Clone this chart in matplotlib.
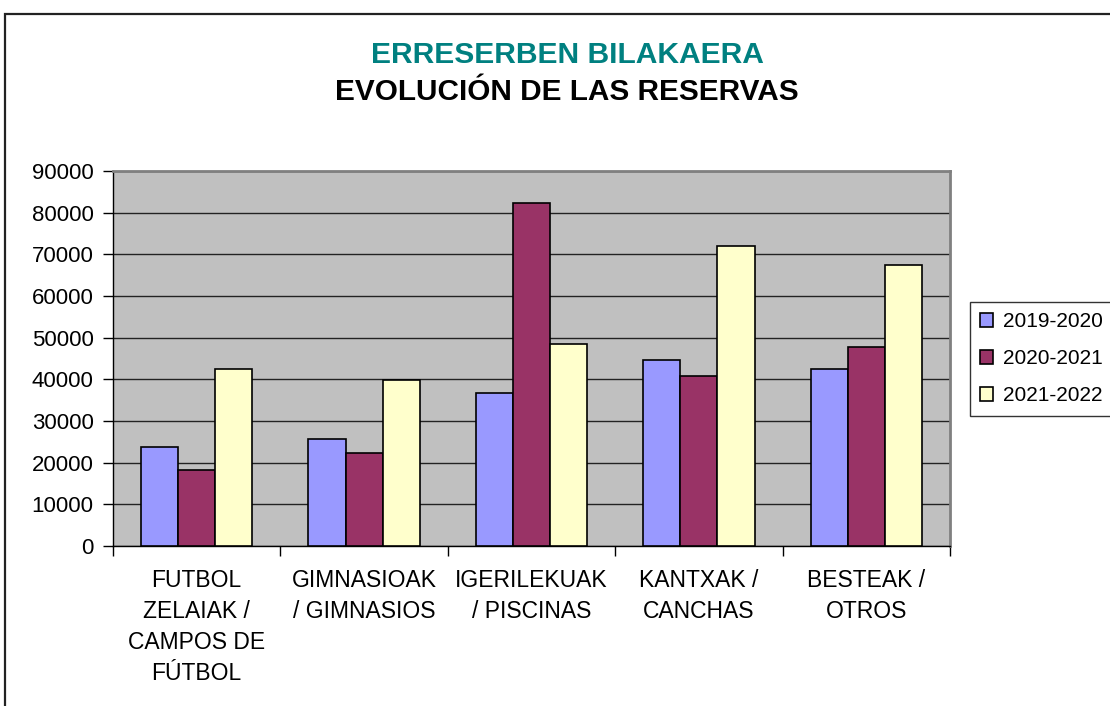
import numpy as np
import matplotlib.pyplot as plt
from matplotlib.patches import Rectangle

plt.rcParams['font.family'] = ['Liberation Sans', 'DejaVu Sans']

categories = ["FUTBOL\nZELAIAK /\nCAMPOS DE\nFÚTBOL",
              "GIMNASIOAK\n/ GIMNASIOS",
              "IGERILEKUAK\n/ PISCINAS",
              "KANTXAK /\nCANCHAS",
              "BESTEAK /\nOTROS"]
seasons = ["2019-2020", "2020-2021", "2021-2022"]
v_2019 = [23700, 25800, 36700, 44700, 42500]
v_2020 = [18300, 22300, 82400, 40700, 47700]
v_2021 = [42500, 39800, 48600, 71900, 67500]
colors = ["#9999FF", "#993366", "#FFFFCC"]

fig = plt.figure(figsize=(11.1, 7.06), dpi=100)
W, H = 1110, 706

# outer chart border (runs off the right and bottom edges)
fig.patches.append(Rectangle((5 / W, -0.1), 1.2, 1 - 14 / H + 0.1,
                             transform=fig.transFigure, fill=False,
                             edgecolor="#222222", linewidth=1.6))

ax = fig.add_axes([113 / W, 1 - 546 / H, (950 - 113) / W, (546 - 171) / H])
ax.set_facecolor("#C0C0C0")

x = np.arange(len(categories))
w = 0.222
for j, (vals, lab) in enumerate(zip([v_2019, v_2020, v_2021], seasons)):
    ax.bar(x + (j - 1) * w, vals, w, color=colors[j], edgecolor="black",
           linewidth=1.2, label=lab, zorder=3)

ax.set_xlim(-0.5, len(categories) - 0.5)
ax.set_ylim(0, 90000)
ax.set_yticks(np.arange(0, 90001, 10000))
ax.yaxis.grid(True, color="#222222", linewidth=1.0, zorder=1)
ax.set_axisbelow(True)

ax.set_xticks(np.arange(-0.5, len(categories), 1.0))
ax.set_xticklabels([])
ax.set_xticks(x, minor=True)
ax.set_xticklabels(categories, minor=True, fontsize=16.5, linespacing=1.45)
ax.tick_params(axis="x", which="major", direction="out", length=7, width=1)
ax.tick_params(axis="x", which="minor", length=0, pad=16.5)
ax.tick_params(axis="y", direction="out", length=7, width=1, labelsize=16, pad=7)
for lab in ax.get_xticklabels(minor=True):
    lab.set_verticalalignment("top")

for s in ["top", "right"]:
    ax.spines[s].set_color("#808080")
    ax.spines[s].set_linewidth(2)
for s in ["left", "bottom"]:
    ax.spines[s].set_color("black")
    ax.spines[s].set_linewidth(1)

fig.text(567 / W, 1 - 55 / H, "ERRESERBEN BILAKAERA", color="#008080",
         fontsize=21.6, fontweight="bold", ha="center", va="center")
fig.text(567 / W, 1 - 92 / H, "EVOLUCIÓN DE LAS RESERVAS", color="black",
         fontsize=21.4, fontweight="bold", ha="center", va="center")

leg = fig.legend(loc="upper left", bbox_to_anchor=(970 / W, 1 - 302 / H),
                 fontsize=15, frameon=True, fancybox=False, handlelength=0.6,
                 handleheight=0.6, handletextpad=0.5, labelspacing=0.86,
                 borderpad=0.5, borderaxespad=0)
leg.get_frame().set_edgecolor("black")
leg.get_frame().set_linewidth(1)

fig.savefig("out.png", dpi=100)
